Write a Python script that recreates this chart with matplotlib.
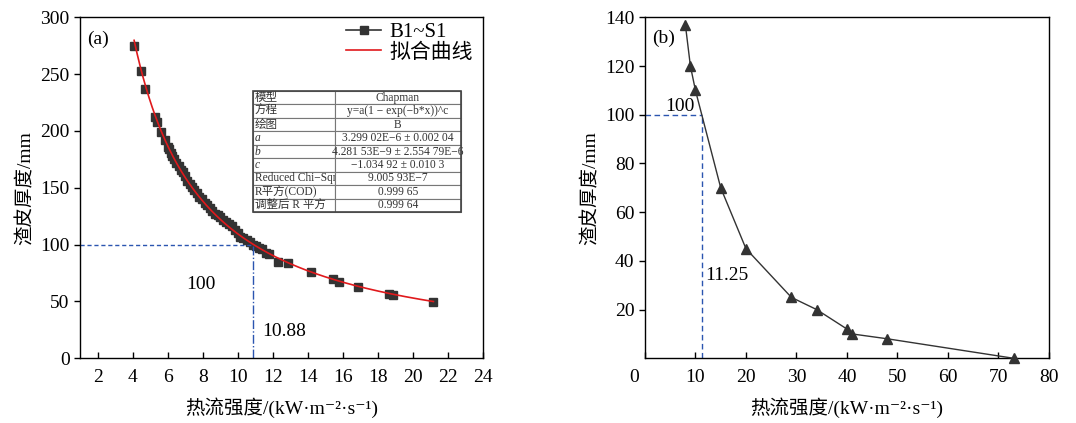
import numpy as np
import matplotlib
matplotlib.use("Agg")
import matplotlib.pyplot as plt
from matplotlib.lines import Line2D
from matplotlib.transforms import ScaledTranslation

plt.rcParams['font.family'] = ['Liberation Serif', 'Noto Sans CJK SC', 'DejaVu Serif']
plt.rcParams['axes.unicode_minus'] = False

# ---- data (a) ----
flux_a = [4.08, 4.45, 4.72, 5.25, 5.37, 5.62, 5.82, 6.00, 6.08, 6.18, 6.27, 6.38,
          6.50, 6.62, 6.75, 6.86, 7.00, 7.12, 7.25, 7.38, 7.52, 7.66, 7.80, 7.95,
          8.10, 8.25, 8.40, 8.55, 8.70, 8.85, 9.00, 9.15, 9.30, 9.48, 9.65, 9.82,
          10.00, 10.15, 10.30, 10.50, 10.70, 10.88, 11.05, 11.22, 11.40, 11.60,
          11.78, 12.31, 12.88, 14.18, 15.46, 15.80, 16.88, 18.65, 18.85, 21.17]
thick_a = [275, 253, 237, 212, 208, 199, 192, 186, 184, 181, 178, 175,
           172, 169, 166, 164, 160, 156, 153, 151, 148, 145, 142, 140,
           137, 135, 132, 130, 127, 126, 124, 122, 120, 118, 116, 113,
           110, 107, 106, 104, 102, 100, 99, 97, 96, 93,
           92, 85, 84, 75.5, 69.5, 67, 63, 57, 55.5, 49.5]
xref_a, yref_a = 10.88, 100

table_left = ['模型', '方程', '绘图', 'a', 'b', 'c', 'Reduced Chi−Sqr', 'R平方(COD)', '调整后 R 平方']
table_right = ['Chapman', 'y=a(1 − exp(−b*x))^c', 'B', '3.299 02E−6 ± 0.002 04',
               '4.281 53E−9 ± 2.554 79E−6', '−1.034 92 ± 0.010 3', '9.005 93E−7',
               '0.999 65', '0.999 64']

# ---- data (b) ----
flux_b = [8, 9, 10, 15, 20, 29, 34, 40, 41, 48, 73]
thick_b = [137, 120, 110, 70, 45, 25, 20, 12, 10, 8, 0]
xref_b, yref_b = 11.25, 100

xlabel = '热流强度/(kW·m⁻²·s⁻¹)'
ylabel = '渣皮厚度/mm'

fig = plt.figure(figsize=(10.76, 4.23), dpi=100)
ax1 = fig.add_axes([0.0745, 0.153, 0.3744, 0.806])
ax2 = fig.add_axes([0.5994, 0.153, 0.3755, 0.806])

dash_col = '#2b55b0'
mk_col = '#333333'

# (a)
ax1.plot(flux_a, thick_a, 's', color=mk_col, ms=6, zorder=2)
coef = np.polyfit(np.log(flux_a), np.log(thick_a), 1)
xs = np.linspace(min(flux_a), max(flux_a), 300)
ax1.plot(xs, np.exp(np.polyval(coef, np.log(xs))), '-', color='#e0191c', lw=1.2, zorder=3)
ax1.plot([1, xref_a], [yref_a, yref_a], color=dash_col, ls=(0, (3, 2)), lw=1.0)
ax1.plot([xref_a, xref_a], [0, yref_a], color=dash_col, ls='-.', lw=1.0)
ax1.set_xlim(1, 24)
ax1.set_ylim(0, 300)
ax1.set_xticks(np.arange(2, 25, 2))
ax1.set_yticks(np.arange(0, 301, 50))
ax1.text(7.9, 65, '100', fontsize=14, ha='center', va='center')
ax1.text(12.67, 24, '10.88', fontsize=14, ha='center', va='center')
ax1.text(0.045, 0.936, '(a)', transform=ax1.transAxes, fontsize=14, ha='center', va='center')

handles = [Line2D([], [], color='#333333', marker='s', ms=6, lw=1.2),
           Line2D([], [], color='#e0191c', lw=1.2)]
ax1.legend(handles, ['B1~S1', '拟合曲线'], loc='upper left', bbox_to_anchor=(0.66, 0.985),
           frameon=False, fontsize=15, borderaxespad=0, borderpad=0, handlelength=1.7,
           handletextpad=0.4, labelspacing=0.05)

tab = ax1.table(cellText=[[l, r] for l, r in zip(table_left, table_right)],
                colWidths=[0.394, 0.606], cellLoc='center',
                bbox=[0.429, 0.429, 0.516, 0.355])
tab.auto_set_font_size(False)
for (r, c), cell in tab.get_celld().items():
    cell.set_edgecolor('#777777')
    cell.set_linewidth(0.8)
    txt = cell.get_text()
    txt.set_fontsize(8.3)
    txt.set_color('#333333')
    if c == 0:
        cell.PAD = 0.02
        txt.set_horizontalalignment('left')
        if table_left[r] in ('a', 'b', 'c'):
            txt.set_style('italic')
ax1.add_patch(plt.Rectangle((0.429, 0.429), 0.516, 0.355, transform=ax1.transAxes,
                            fill=False, ec='#444444', lw=1.2, zorder=5))

# (b)
ax2.plot(flux_b, thick_b, '-^', color='#333333', mfc=mk_col, mec=mk_col, ms=7, lw=1.0,
         clip_on=False, zorder=3)
ax2.plot([0, xref_b], [yref_b, yref_b], color=dash_col, ls=(0, (4, 2.5)), lw=1.0)
ax2.plot([xref_b, xref_b], [0, yref_b], color=dash_col, ls=(0, (4, 2.5)), lw=1.0)
ax2.set_xlim(0, 80)
ax2.set_ylim(0, 140)
ax2.set_xticks(np.arange(0, 81, 10))
ax2.set_yticks(np.arange(20, 141, 20))
ax2.text(7.0, 103.5, '100', fontsize=14, ha='center', va='center')
ax2.text(16.3, 34, '11.25', fontsize=14, ha='center', va='center')
ax2.text(0.047, 0.939, '(b)', transform=ax2.transAxes, fontsize=14, ha='center', va='center')

for ax in (ax1, ax2):
    ax.tick_params(axis='x', direction='in', length=4, width=1, labelsize=14, pad=8)
    ax.tick_params(axis='y', direction='out', length=4, width=1, labelsize=14)
    for s in ax.spines.values():
        s.set_linewidth(1.0)
    ax.set_xlabel(xlabel, fontsize=14, labelpad=8)
    ax.set_ylabel(ylabel, fontsize=14)

fig.canvas.draw()
lab0 = ax2.get_xticklabels()[0]
lab0.set_transform(lab0.get_transform() + ScaledTranslation(-0.11, 0, fig.dpi_scale_trans))

fig.savefig('out.png', dpi=100)
